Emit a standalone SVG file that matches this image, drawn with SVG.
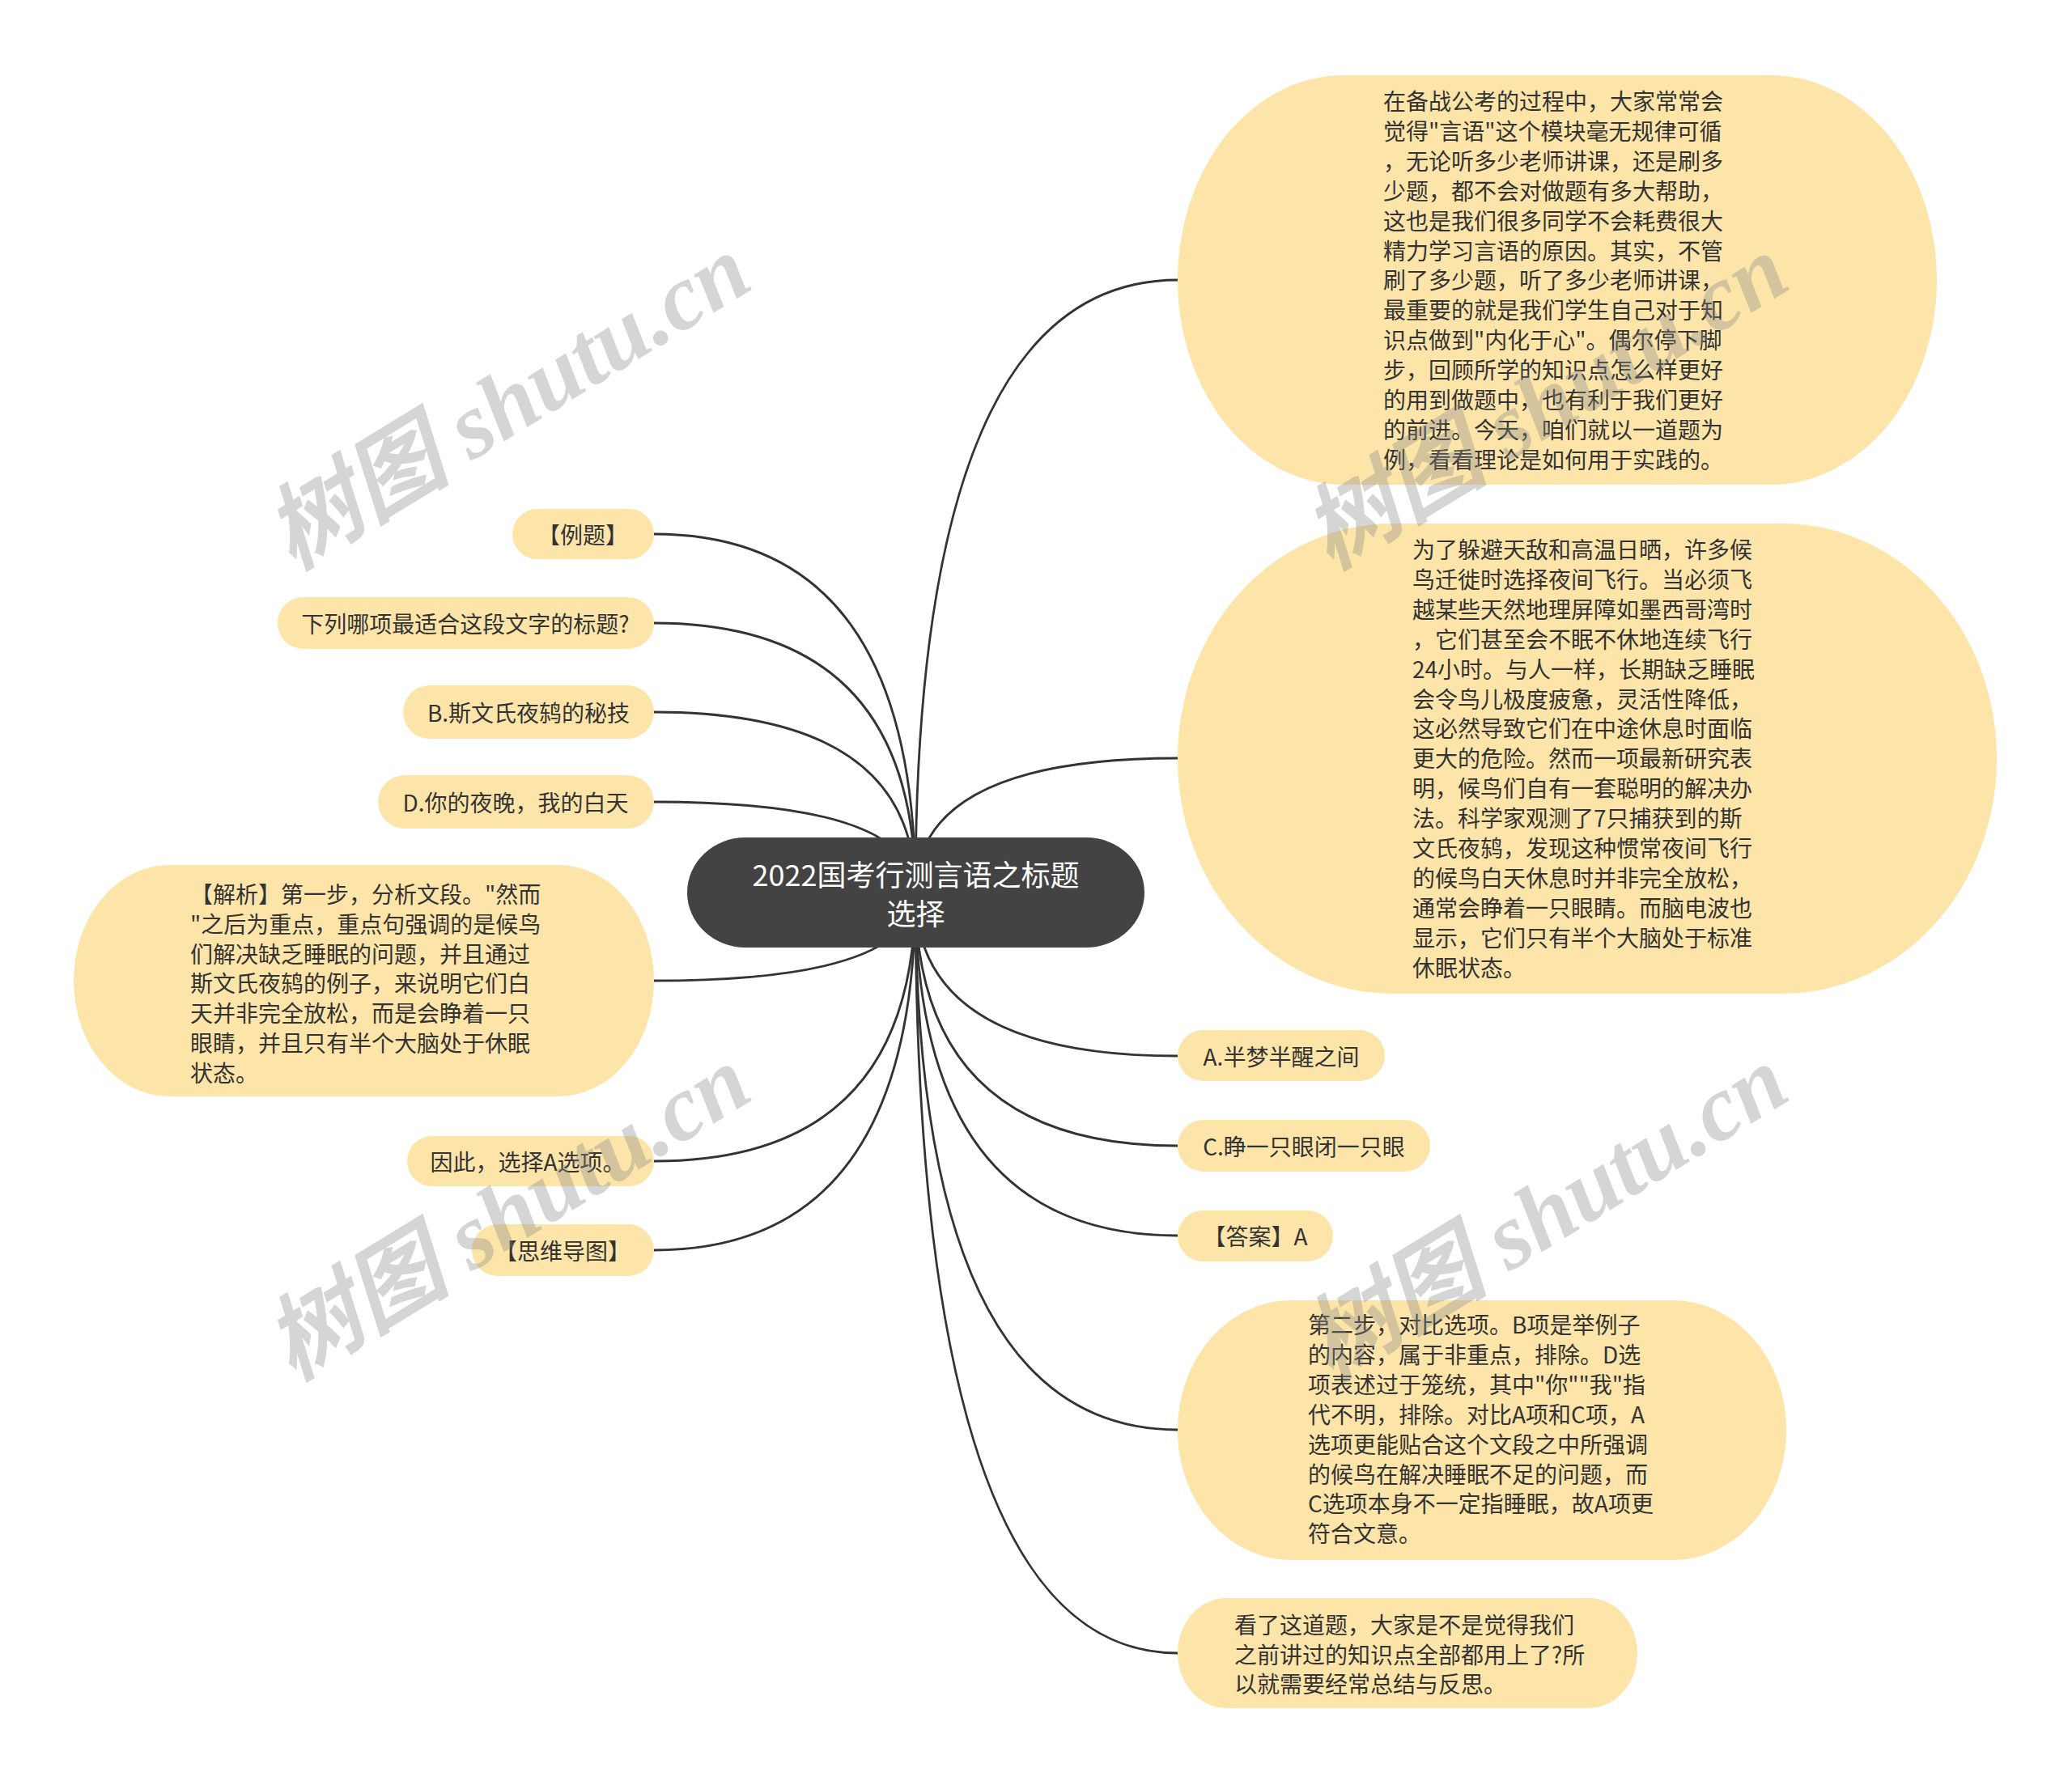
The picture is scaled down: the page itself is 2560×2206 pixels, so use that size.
<svg xmlns="http://www.w3.org/2000/svg" width="2560" height="2206" viewBox="0 0 2560 2206">
<style>
.bg{fill:#ffffff}
.n{fill:#fde5a9}
.c{fill:#434343}
.t{font-family:"Noto Sans CJK SC","Noto Sans",sans-serif;font-size:28px;fill:#333333;dominant-baseline:central}
.tm{text-anchor:middle}
.ct{font-family:"Noto Sans CJK SC","Noto Sans",sans-serif;font-size:36px;fill:#ffffff;text-anchor:middle;dominant-baseline:central}
.e{fill:none;stroke:#333333;stroke-width:2.8}
.w{font-family:"Liberation Serif","Noto Sans CJK SC",serif;font-size:115px;font-style:italic;font-weight:bold;fill:#888888;opacity:0.35}
</style>
<rect class="bg" x="0" y="0" width="2560" height="2206"/>
<g id="connectors">
<path class="e" d="M1131,1103 Q1131,346 1455,346"/>
<path class="e" d="M1131,1103 Q1131,937 1455,937"/>
<path class="e" d="M1131,1103 Q1131,1305 1455,1305"/>
<path class="e" d="M1131,1103 Q1131,1416 1455,1416"/>
<path class="e" d="M1131,1103 Q1131,1527 1455,1527"/>
<path class="e" d="M1131,1103 Q1131,1767 1455,1767"/>
<path class="e" d="M1131,1103 Q1131,2043 1455,2043"/>
<path class="e" d="M1131,1103 Q1131,660 808,660"/>
<path class="e" d="M1131,1103 Q1131,770 808,770"/>
<path class="e" d="M1131,1103 Q1131,880 808,880"/>
<path class="e" d="M1131,1103 Q1131,991 808,991"/>
<path class="e" d="M1131,1103 Q1131,1212 808,1212"/>
<path class="e" d="M1131,1103 Q1131,1435 808,1435"/>
<path class="e" d="M1131,1103 Q1131,1545 808,1545"/>
</g>
<g id="root">
<rect class="c" x="849" y="1035" width="565" height="136" rx="72" ry="68"/>
<text class="ct" x="1131.5" y="1079">2022国考行测言语之标题</text>
<text class="ct" x="1131.5" y="1127">选择</text>
</g>
<g id="node-intro">
<rect class="n" x="1455" y="93" width="938" height="506" rx="205" ry="253"/>
<text class="t">
<tspan x="1709" y="124">在备战公考的过程中，大家常常会</tspan>
<tspan x="1709" y="160.9">觉得"言语"这个模块毫无规律可循</tspan>
<tspan x="1709" y="197.8">，无论听多少老师讲课，还是刷多</tspan>
<tspan x="1709" y="234.7">少题，都不会对做题有多大帮助，</tspan>
<tspan x="1709" y="271.6">这也是我们很多同学不会耗费很大</tspan>
<tspan x="1709" y="308.5">精力学习言语的原因。其实，不管</tspan>
<tspan x="1709" y="345.4">刷了多少题，听了多少老师讲课，</tspan>
<tspan x="1709" y="382.3">最重要的就是我们学生自己对于知</tspan>
<tspan x="1709" y="419.2">识点做到"内化于心"。偶尔停下脚</tspan>
<tspan x="1709" y="456.1">步，回顾所学的知识点怎么样更好</tspan>
<tspan x="1709" y="493">的用到做题中，也有利于我们更好</tspan>
<tspan x="1709" y="529.9">的前进。今天，咱们就以一道题为</tspan>
<tspan x="1709" y="566.8">例，看看理论是如何用于实践的。</tspan>
</text>
</g>
<g id="node-passage">
<rect class="n" x="1455" y="647" width="1012" height="581" rx="265" ry="290"/>
<text class="t">
<tspan x="1745" y="678">为了躲避天敌和高温日晒，许多候</tspan>
<tspan x="1745" y="714.9">鸟迁徙时选择夜间飞行。当必须飞</tspan>
<tspan x="1745" y="751.8">越某些天然地理屏障如墨西哥湾时</tspan>
<tspan x="1745" y="788.7">，它们甚至会不眠不休地连续飞行</tspan>
<tspan x="1745" y="825.6">24小时。与人一样，长期缺乏睡眠</tspan>
<tspan x="1745" y="862.5">会令鸟儿极度疲惫，灵活性降低，</tspan>
<tspan x="1745" y="899.4">这必然导致它们在中途休息时面临</tspan>
<tspan x="1745" y="936.3">更大的危险。然而一项最新研究表</tspan>
<tspan x="1745" y="973.2">明，候鸟们自有一套聪明的解决办</tspan>
<tspan x="1745" y="1010.1">法。科学家观测了7只捕获到的斯</tspan>
<tspan x="1745" y="1047">文氏夜鸫，发现这种惯常夜间飞行</tspan>
<tspan x="1745" y="1083.9">的候鸟白天休息时并非完全放松，</tspan>
<tspan x="1745" y="1120.8">通常会睁着一只眼睛。而脑电波也</tspan>
<tspan x="1745" y="1157.7">显示，它们只有半个大脑处于标准</tspan>
<tspan x="1745" y="1194.6">休眠状态。</tspan>
</text>
</g>
<g id="node-a">
<rect class="n" x="1455" y="1273" width="256" height="63" rx="31.5"/>
<text class="t tm" x="1583" y="1305">A.半梦半醒之间</text>
</g>
<g id="node-c">
<rect class="n" x="1455" y="1384" width="312" height="64" rx="32"/>
<text class="t tm" x="1611" y="1416">C.睁一只眼闭一只眼</text>
</g>
<g id="node-answer">
<rect class="n" x="1455" y="1496" width="192" height="63" rx="31.5"/>
<text class="t tm" x="1551" y="1527">【答案】A</text>
</g>
<g id="node-step2">
<rect class="n" x="1455" y="1607" width="752" height="321" rx="140" ry="160"/>
<text class="t">
<tspan x="1616" y="1636">第二步，对比选项。B项是举例子</tspan>
<tspan x="1616" y="1672.9">的内容，属于非重点，排除。D选</tspan>
<tspan x="1616" y="1709.8">项表述过于笼统，其中"你""我"指</tspan>
<tspan x="1616" y="1746.7">代不明，排除。对比A项和C项，A</tspan>
<tspan x="1616" y="1783.6">选项更能贴合这个文段之中所强调</tspan>
<tspan x="1616" y="1820.5">的候鸟在解决睡眠不足的问题，而</tspan>
<tspan x="1616" y="1857.4">C选项本身不一定指睡眠，故A项更</tspan>
<tspan x="1616" y="1894.3">符合文意。</tspan>
</text>
</g>
<g id="node-summary">
<rect class="n" x="1455" y="1975" width="568" height="136" rx="60" ry="68"/>
<text class="t">
<tspan x="1525" y="2006.6">看了这道题，大家是不是觉得我们</tspan>
<tspan x="1525" y="2043.5">之前讲过的知识点全部都用上了?所</tspan>
<tspan x="1525" y="2080.4">以就需要经常总结与反思。</tspan>
</text>
</g>
<g id="node-example">
<rect class="n" x="633" y="629" width="175" height="62" rx="31"/>
<text class="t tm" x="720" y="660">【例题】</text>
</g>
<g id="node-question">
<rect class="n" x="343" y="738" width="465" height="64" rx="32"/>
<text class="t tm" x="575" y="770">下列哪项最适合这段文字的标题?</text>
</g>
<g id="node-b">
<rect class="n" x="498" y="847" width="310" height="66" rx="33"/>
<text class="t tm" x="653" y="880">B.斯文氏夜鸫的秘技</text>
</g>
<g id="node-d">
<rect class="n" x="467" y="958" width="341" height="66" rx="33"/>
<text class="t tm" x="637" y="991">D.你的夜晚，我的白天</text>
</g>
<g id="node-analysis">
<rect class="n" x="91" y="1069" width="717" height="286" rx="118" ry="143"/>
<text class="t">
<tspan x="235" y="1103.7">【解析】第一步，分析文段。"然而</tspan>
<tspan x="235" y="1140.6">"之后为重点，重点句强调的是候鸟</tspan>
<tspan x="235" y="1177.5">们解决缺乏睡眠的问题，并且通过</tspan>
<tspan x="235" y="1214.4">斯文氏夜鸫的例子，来说明它们白</tspan>
<tspan x="235" y="1251.3">天并非完全放松，而是会睁着一只</tspan>
<tspan x="235" y="1288.2">眼睛，并且只有半个大脑处于休眠</tspan>
<tspan x="235" y="1325.1">状态。</tspan>
</text>
</g>
<g id="node-therefore">
<rect class="n" x="503" y="1404" width="305" height="62" rx="31"/>
<text class="t tm" x="652" y="1435">因此，选择A选项。</text>
</g>
<g id="node-mindmap">
<rect class="n" x="583" y="1513" width="225" height="64" rx="32"/>
<text class="t tm" x="695" y="1545">【思维导图】</text>
</g>
<g id="watermarks">
<text class="w" text-anchor="middle" transform="translate(648,530) rotate(-31.5)">树图 shutu.cn</text>
<text class="w" text-anchor="middle" transform="translate(1930,530) rotate(-31.5)">树图 shutu.cn</text>
<text class="w" text-anchor="middle" transform="translate(648,1532) rotate(-31.5)">树图 shutu.cn</text>
<text class="w" text-anchor="middle" transform="translate(1930,1532) rotate(-31.5)">树图 shutu.cn</text>
</g>
</svg>
